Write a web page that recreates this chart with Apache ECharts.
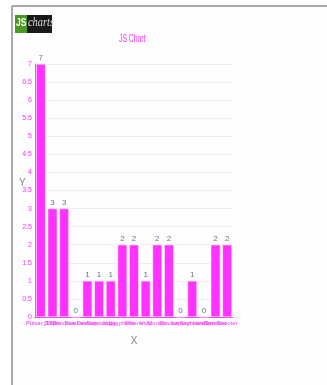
<!DOCTYPE html>
<html><head><meta charset="utf-8">
<script src="https://cdn.jsdelivr.net/npm/echarts@6/dist/echarts.min.js"></script>
<style>html,body{margin:0;padding:0;background:#fff;}#c{width:327px;height:385px;}</style>
</head><body><div id="c"></div>
<script>
var categories = ["Pulsar_150","Blinds","Pendrive","Scanner","Desktop","Samsung","Nokia","Lg_phone","iPhone","Vivo","Monitor","Router","Laptop","Keyboard","Headset","Speaker","Scooter"];
var values = [7,3,3,0,1,1,1,2,2,1,2,2,0,1,0,2,2];
var yTicks = [0,0.5,1,1.5,2,2.5,3,3.5,4,4.5,5,5.5,6,6.5,7];
var chartTitle = 'JS Chart';
var xName = 'X';
var yName = 'Y';

var chart = echarts.init(document.getElementById('c'));
chart.setOption({
  animation:false,
  backgroundColor:'#ffffff',
  graphic:[
    {type:'rect',shape:{x:12,y:6,width:315,height:379},style:{fill:'#fdfdfd',stroke:null},z:-10},
    {type:'line',shape:{x1:12,y1:6,x2:327,y2:6},style:{stroke:'#a8a8a8',lineWidth:2}},
    {type:'line',shape:{x1:12,y1:6,x2:12,y2:385},style:{stroke:'#a8a8a8',lineWidth:2}},
    {type:'rect',shape:{x:15,y:15,width:12,height:18},style:{fill:'#4a9a1e'}},
    {type:'rect',shape:{x:27,y:15,width:25,height:18},style:{fill:'#1a1a1a'}},
    {type:'text',x:16,y:18,scaleX:0.85,style:{text:'JS',fill:'#ffffff',font:'bold 10px Liberation Sans'}},
    {type:'text',x:28,y:16,scaleX:0.8,style:{text:'charts',fill:'#dddddd',font:'italic 13px Liberation Serif'}},
    {type:'text',x:119,y:34,scaleX:0.68,style:{text:chartTitle,fill:'#ff33ff',font:'10px Liberation Sans'}},
    {type:'text',x:19,y:178,style:{text:yName,fill:'#888888',font:'10px Liberation Sans'}}
  ],
  grid:{left:35,right:94,top:64,bottom:68,containLabel:false},
  xAxis:{type:'category',data:categories,name:xName,nameLocation:'middle',nameGap:19,
    nameTextStyle:{color:'#888',fontSize:10,fontFamily:'Liberation Sans'},
    axisLine:{lineStyle:{color:'#ff33ff',width:1}},axisTick:{show:false},
    axisLabel:{interval:0,color:'#ff33ff',fontSize:6,margin:3,fontFamily:'Liberation Sans'}},
  yAxis:{type:'value',min:0,max:7,interval:0.5,
    axisLine:{show:true,lineStyle:{color:'#ff33ff'}},axisTick:{show:false},
    axisLabel:{color:'#ff33ff',fontSize:7,margin:3,fontFamily:'Liberation Sans',formatter:function(v){return String(v);}},
    splitLine:{lineStyle:{color:'#eeeeee'}}},
  series:[{type:'bar',data:values,barCategoryGap:'18%',
    itemStyle:{color:'#ff33ff',borderColor:'#ffffff',borderWidth:0.5},
    label:{show:true,position:'top',distance:2,color:'#5f7590',fontSize:8,fontFamily:'Liberation Sans'}}]
});
</script></body></html>
